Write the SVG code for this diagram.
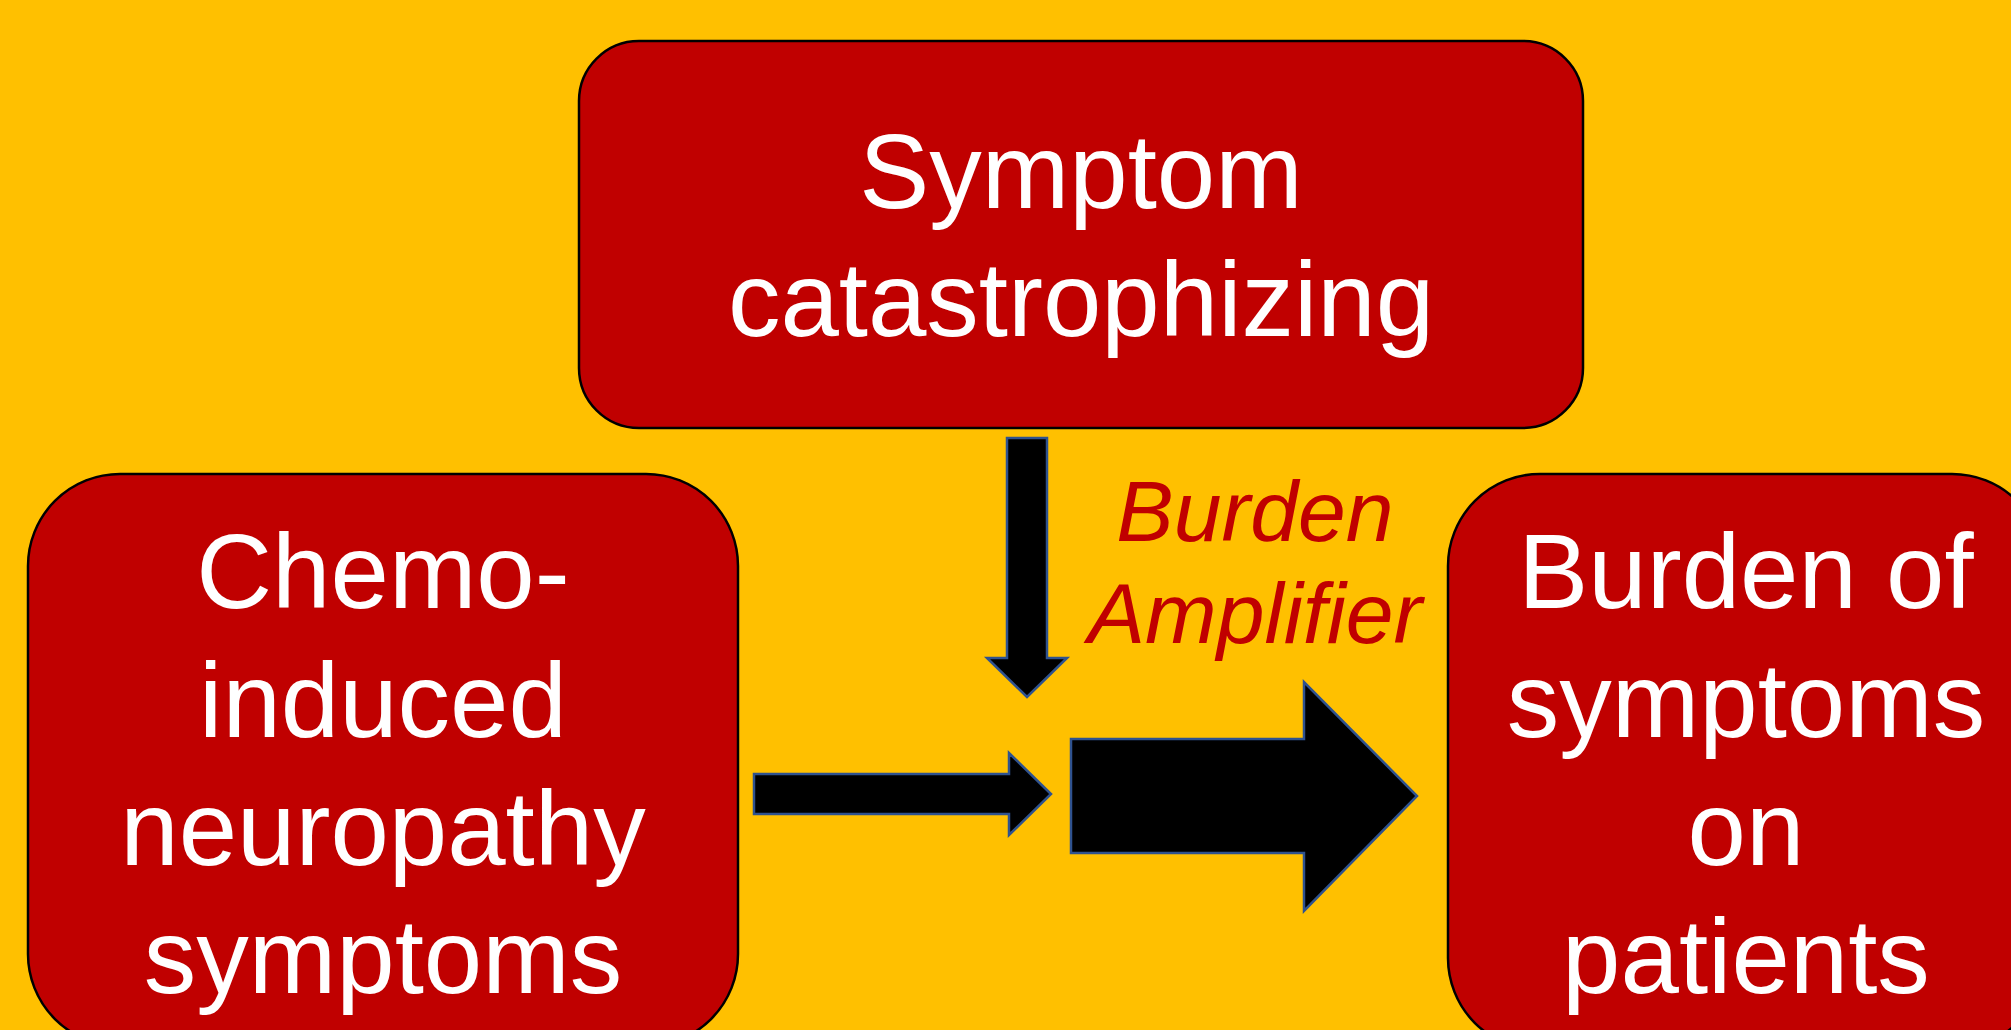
<svg xmlns="http://www.w3.org/2000/svg" width="2011" height="1030" viewBox="0 0 2011 1030">
<style>
.box{fill:#C00000;stroke:#000;stroke-width:2.5}
.t{font-family:"Liberation Sans",Arial,sans-serif;font-size:105px;fill:#fff;text-anchor:middle}
.amp{font-family:"Liberation Sans",Arial,sans-serif;font-size:86px;font-style:italic;fill:#C00000;text-anchor:middle}
.arr{fill:#000;stroke:#2F528F;stroke-width:2.5;stroke-linejoin:miter}
</style>
<rect x="0" y="0" width="2011" height="1030" fill="#FFC000"/>
<g id="node-catastrophizing">
<rect class="box" x="579" y="41" width="1004" height="387" rx="60" ry="60"/>
<text class="t" x="1081" y="208">Symptom</text>
<text class="t" x="1081" y="336">catastrophizing</text>
</g>
<g id="node-cipn">
<rect class="box" x="28" y="474" width="710" height="572" rx="92" ry="92"/>
<text class="t" x="383" y="608">Chemo-</text>
<text class="t" x="383" y="737">induced</text>
<text class="t" x="383" y="865">neuropathy</text>
<text class="t" x="383" y="993">symptoms</text>
</g>
<g id="node-burden">
<rect class="box" x="1448" y="474" width="596" height="576" rx="92" ry="92"/>
<text class="t" x="1746" y="608">Burden of</text>
<text class="t" x="1746" y="737">symptoms</text>
<text class="t" x="1746" y="865">on</text>
<text class="t" x="1746" y="993">patients</text>
</g>
<g id="label-amplifier">
<text class="amp" x="1255" y="541">Burden</text>
<text class="amp" x="1255" y="643">Amplifier</text>
</g>
<g id="connectors">
<polygon class="arr" points="1007,438 1047,438 1047,658 1067,658 1027,697 987,658 1007,658"/>
<polygon class="arr" points="754,774 1009,774 1009,753 1051,794 1009,835 1009,814 754,814"/>
<polygon class="arr" points="1071,739 1304,739 1304,682 1417,796 1304,911 1304,853 1071,853"/>
</g>
</svg>
